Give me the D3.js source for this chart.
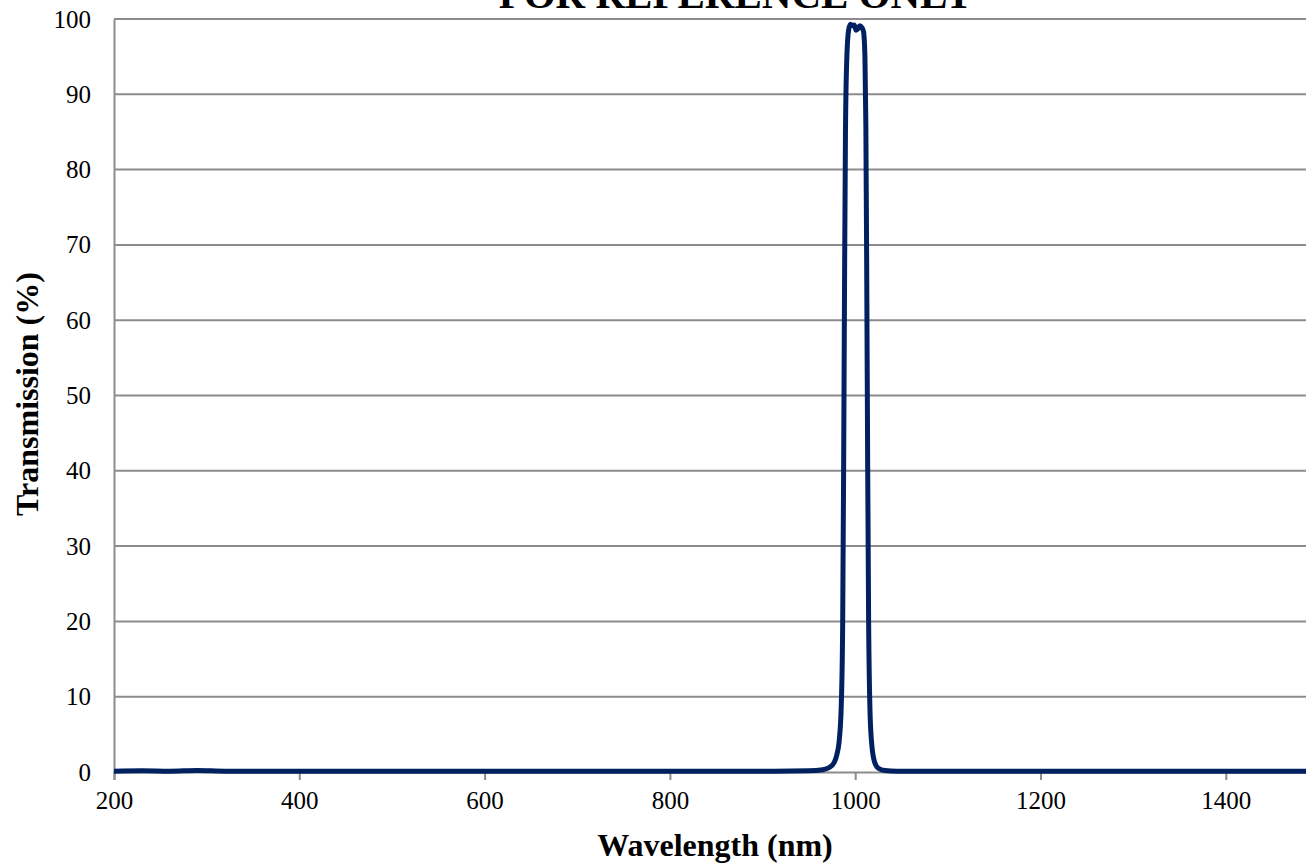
<!DOCTYPE html>
<html>
<head>
<meta charset="utf-8">
<script src="https://cdn.jsdelivr.net/npm/d3@7"></script>
<style>
  html, body { margin: 0; padding: 0; background: #fff; overflow: hidden; }
  svg { display: block; font-family: "Liberation Serif", "Times New Roman", serif; }
</style>
</head>
<body>
<svg id="chart" width="1306" height="865"></svg>
<script>
// measured spectrum (nm, %T)
const wavelength = [200, 230, 260, 290, 320, 400, 500, 600, 700, 800, 900, 950, 965, 972, 977, 980, 983, 985, 986.5, 987.5, 988.5, 989.5, 991, 993, 995, 997, 999, 1001, 1003, 1005, 1007, 1009, 1010.5, 1011.5, 1012.5, 1013.5, 1014.5, 1016, 1018, 1021, 1025, 1032, 1045, 1100, 1200, 1300, 1400, 1500];
const transmission = [0.1, 0.15, 0.1, 0.2, 0.1, 0.1, 0.1, 0.1, 0.1, 0.1, 0.1, 0.15, 0.3, 0.6, 1.2, 2.2, 4.5, 9, 20, 40, 65, 85, 95, 98.6, 99.3, 99.1, 99.2, 98.5, 98.7, 99.1, 98.9, 98.3, 95, 86, 65, 40, 20, 8, 3.5, 1.3, 0.5, 0.2, 0.1, 0.1, 0.1, 0.1, 0.1, 0.1];
const xTicks = [200, 400, 600, 800, 1000, 1200, 1400];
const yTicks = [0, 10, 20, 30, 40, 50, 60, 70, 80, 90, 100];

const data = wavelength.map((w, i) => ({ w: w, t: transmission[i] }));

const svg = d3.select("#chart");
const plotLeft = 114, plotTop = 19, plotBottom = 772;

const x = d3.scaleLinear().domain([200, 1500]).range([plotLeft, plotLeft + 1300 * 0.9265]);
const y = d3.scaleLinear().domain([0, 100]).range([plotBottom, plotTop]);

// horizontal gridlines
svg.append("g")
  .selectAll("line")
  .data(yTicks.filter((d) => d > 0))
  .enter()
  .append("line")
  .attr("x1", plotLeft)
  .attr("x2", x(1500))
  .attr("y1", (d) => y(d))
  .attr("y2", (d) => y(d))
  .attr("stroke", "#8c8c8c")
  .attr("stroke-width", 2);

// y axis
const yAxis = svg.append("g")
  .attr("transform", `translate(${plotLeft},0)`)
  .call(d3.axisLeft(y).tickValues(yTicks).tickSize(0).tickPadding(23));
yAxis.select(".domain").attr("stroke", "#8c8c8c").attr("stroke-width", 2);
yAxis.selectAll("text").attr("font-size", 25).attr("fill", "#000")
  .attr("font-family", "Liberation Serif");

// x axis
const xAxis = svg.append("g")
  .attr("transform", `translate(0,${plotBottom})`)
  .call(d3.axisBottom(x).tickValues(xTicks).tickSize(8).tickPadding(11).tickFormat(d3.format("d")));
xAxis.select(".domain").attr("stroke", "#8c8c8c").attr("stroke-width", 2);
xAxis.selectAll(".tick line").attr("stroke", "#8c8c8c").attr("stroke-width", 2);
xAxis.selectAll("text").attr("font-size", 25).attr("fill", "#000")
  .attr("font-family", "Liberation Serif");

// spectrum
svg.append("path")
  .datum(data)
  .attr("fill", "none")
  .attr("stroke", "#002060")
  .attr("stroke-width", 5)
  .attr("stroke-linejoin", "round")
  .attr("d", d3.line().x((d) => x(d.w)).y((d) => y(d.t)).curve(d3.curveMonotoneX));

// titles
svg.append("text")
  .attr("x", 736)
  .attr("y", 8)
  .attr("text-anchor", "middle")
  .attr("font-weight", "bold")
  .attr("font-size", 41)
  .text("FOR REFERENCE ONLY");

svg.append("text")
  .attr("x", 715)
  .attr("y", 856)
  .attr("text-anchor", "middle")
  .attr("font-weight", "bold")
  .attr("font-size", 32)
  .text("Wavelength (nm)");

svg.append("text")
  .attr("transform", "translate(38,394) rotate(-90)")
  .attr("text-anchor", "middle")
  .attr("font-weight", "bold")
  .attr("font-size", 32)
  .text("Transmission (%)");
</script>
</body>
</html>
